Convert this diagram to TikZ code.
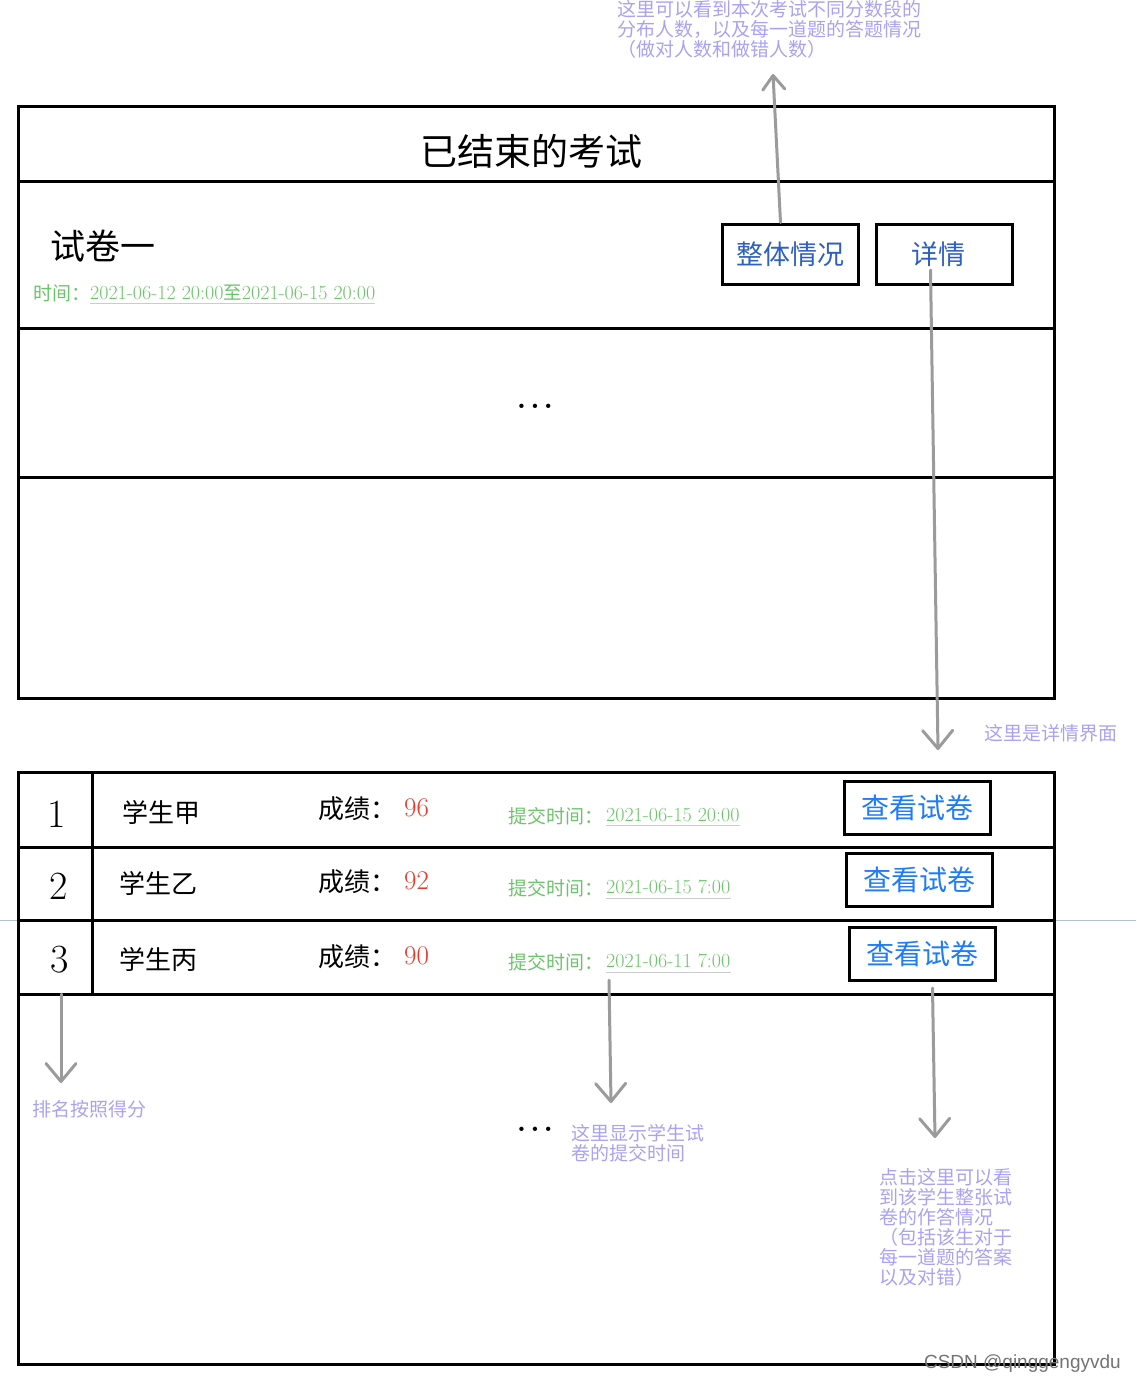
\documentclass[tikz,border=0pt]{standalone}
\usepackage{fontspec}
\usepackage{xcolor}
\usetikzlibrary{arrows.meta}
\newfontfamily\cjk{Noto Sans CJK SC}
\newfontfamily\markfont{Liberation Sans}
\definecolor{notecol}{HTML}{A9A2F2}
\definecolor{timecol}{HTML}{6CC46A}
\definecolor{scorecol}{HTML}{E8392D}
\definecolor{btncol}{HTML}{2F5FC0}
\definecolor{viewcol}{HTML}{1E7CF5}
\definecolor{arrowcol}{HTML}{9B9B9B}
\definecolor{seamcol}{HTML}{AEC0D2}
\begin{document}
\begin{tikzpicture}[x=1pt,y=-1pt,
		boxframe/.style={line width=3pt},
		btnbox/.style={draw,line width=3pt,fill=white,minimum width=136pt,minimum height=60pt,inner sep=0pt,text=btncol,font=\cjk\fontsize{27}{30}\selectfont},
		viewbox/.style={btnbox,minimum width=146pt,minimum height=53pt,text=viewcol,font=\cjk\fontsize{28}{30}\selectfont},
		notetext/.style={inner sep=0pt,align=left,text=notecol,font=\cjk\fontsize{19}{20}\selectfont},
		timelabel/.style={anchor=west,inner sep=0pt,text=timecol,font=\cjk\fontsize{19}{20}\selectfont},
		timetext/.style={anchor=west,inner sep=0pt,text=timecol,font=\fontsize{20}{22}\selectfont},
		uline/.style={draw=black!20,line width=1pt},
		pointarrow/.style={draw=arrowcol,line width=3pt,line cap=round,-{Straight Barb[length=18pt,width=30pt,round]}},
		rowtext/.style={anchor=west,inner sep=0pt,font=\cjk\fontsize{26}{28}\selectfont},
		scoreval/.style={anchor=west,inner sep=0pt,text=scorecol,font=\fontsize{27}{28}\selectfont},
		rankno/.style={inner sep=0pt,font=\fontsize{40}{40}\selectfont},
		dotrow/.style={inner sep=0pt,font=\fontsize{30}{30}\selectfont\bfseries}]

	\useasboundingbox (0,0) rectangle (1136,1384);
	\draw[seamcol,line width=1pt] (0,920) -- (1136,920);

	\draw[boxframe] (18,106) rectangle (1054,698);
	\draw[boxframe] (18,181) -- (1054,181);
	\draw[boxframe] (18,328) -- (1054,328);
	\draw[boxframe] (18,477) -- (1054,477);

	\node[font=\cjk\fontsize{37}{40}\selectfont] (title) at (531,151) {已结束的考试};
	\node[anchor=west,inner sep=0pt,font=\cjk\fontsize{35}{38}\selectfont] (paper) at (50,246) {试卷一};
	\node[timelabel] (timel) at (33,293) {时间：};
	\node[timetext] (timev) at (90,293) {2021-06-12 20:00{\cjk\fontsize{18.5}{20}\selectfont 至}2021-06-15 20:00};
	\draw[uline] ([yshift=-3pt]timev.south west) -- ([yshift=-3pt]timev.south east);

	\node[btnbox] (overall) at (790.5,254) {整体情况};
	\node[btnbox] (detail) at (944.5,254) {\hspace*{-12pt}详情};
	\node[dotrow] (dots1) at (535,406) {.\hspace{4pt}.\hspace{4pt}.};

	\node[notetext,anchor=north west] (overallnote) at (617,0) {这里可以看到本次考试不同分数段的\\分布人数，以及每一道题的答题情况\\（做对人数和做错人数）};
	\coordinate (overalltip) at (773,74);
	\draw[pointarrow,-{Straight Barb[length=14pt,width=22pt,round]}] ([xshift=-10pt]overall.north) -- (overalltip);

	\node[notetext,anchor=west] (detailnote) at (984,733) {这里是详情界面};
	\coordinate (detailtip) at (938,750);
	\draw[pointarrow] ([xshift=-14pt,yshift=-16pt]detail.center) -- (detailtip);

	\draw[boxframe] (18,772) rectangle (1054,1364);
	\draw[boxframe] (18,847) -- (1054,847);
	\draw[boxframe] (18,920) -- (1054,920);
	\draw[boxframe] (18,994) -- (1054,994);
	\draw[boxframe] (92,772) -- (92,994);

	\node[rankno] (rank1) at (57,814) {1};
	\node[rowtext] (name1) at (122,812) {学生甲};
	\node[rowtext] (label1) at (318,809) {成绩：};
	\node[scoreval] (score1) at (404,808) {96};
	\node[timelabel] (subl1) at (508,816) {提交时间：};
	\node[timetext] (subt1) at (606,815) {2021-06-15 20:00};
	\draw[uline] ([yshift=-4pt]subt1.south west) -- ([yshift=-4pt]subt1.south east);
	\node[viewbox] (view1) at (917,807.5) {查看试卷};

	\node[rankno] (rank2) at (59,886) {2};
	\node[rowtext] (name2) at (119,883) {学生乙};
	\node[rowtext] (label2) at (318,882) {成绩：};
	\node[scoreval] (score2) at (404,881) {92};
	\node[timelabel] (subl2) at (508,888) {提交时间：};
	\node[timetext] (subt2) at (606,887) {2021-06-15 7:00};
	\draw[uline] ([yshift=-4pt]subt2.south west) -- ([yshift=-4pt]subt2.south east);
	\node[viewbox] (view2) at (919,879.5) {查看试卷};

	\node[rankno] (rank3) at (60,960) {3};
	\node[rowtext] (name3) at (119,959) {学生丙};
	\node[rowtext] (label3) at (318,957) {成绩：};
	\node[scoreval] (score3) at (404,956) {90};
	\node[timelabel] (subl3) at (508,962) {提交时间：};
	\node[timetext] (subt3) at (606,961) {2021-06-11 7:00};
	\draw[uline] ([yshift=-4pt]subt3.south west) -- ([yshift=-4pt]subt3.south east);
	\node[viewbox] (view3) at (922.5,954) {查看试卷};

	\coordinate (rankstart) at (61,994);
	\coordinate (ranktip) at (61,1083);
	\draw[pointarrow] (rankstart) -- (ranktip);
	\node[notetext,anchor=west] (ranknote) at (32,1109) {排名按照得分};

	\coordinate (subtip) at (611,1103);
	\draw[pointarrow] ([xshift=3pt,yshift=-12pt]subt3.south west) -- (subtip);
	\node[dotrow] (dots2) at (535,1129) {.\hspace{4pt}.\hspace{4pt}.};
	\node[notetext,anchor=north west] (subnote) at (571,1124) {这里显示学生试\\卷的提交时间};

	\coordinate (viewtip) at (935,1138);
	\draw[pointarrow] ([xshift=10pt,yshift=-6pt]view3.south) -- (viewtip);
	\node[notetext,anchor=north west] (viewnote) at (879,1168) {点击这里可以看\\到该学生整张试\\卷的作答情况\\（包括该生对于\\每一道题的答案\\以及对错）};

	\node[anchor=east,inner sep=0pt,text=black!55,font=\markfont\fontsize{19}{20}\selectfont] (mark) at (1121,1364) {CSDN @qinggengyvdu};
\end{tikzpicture}
\end{document}
